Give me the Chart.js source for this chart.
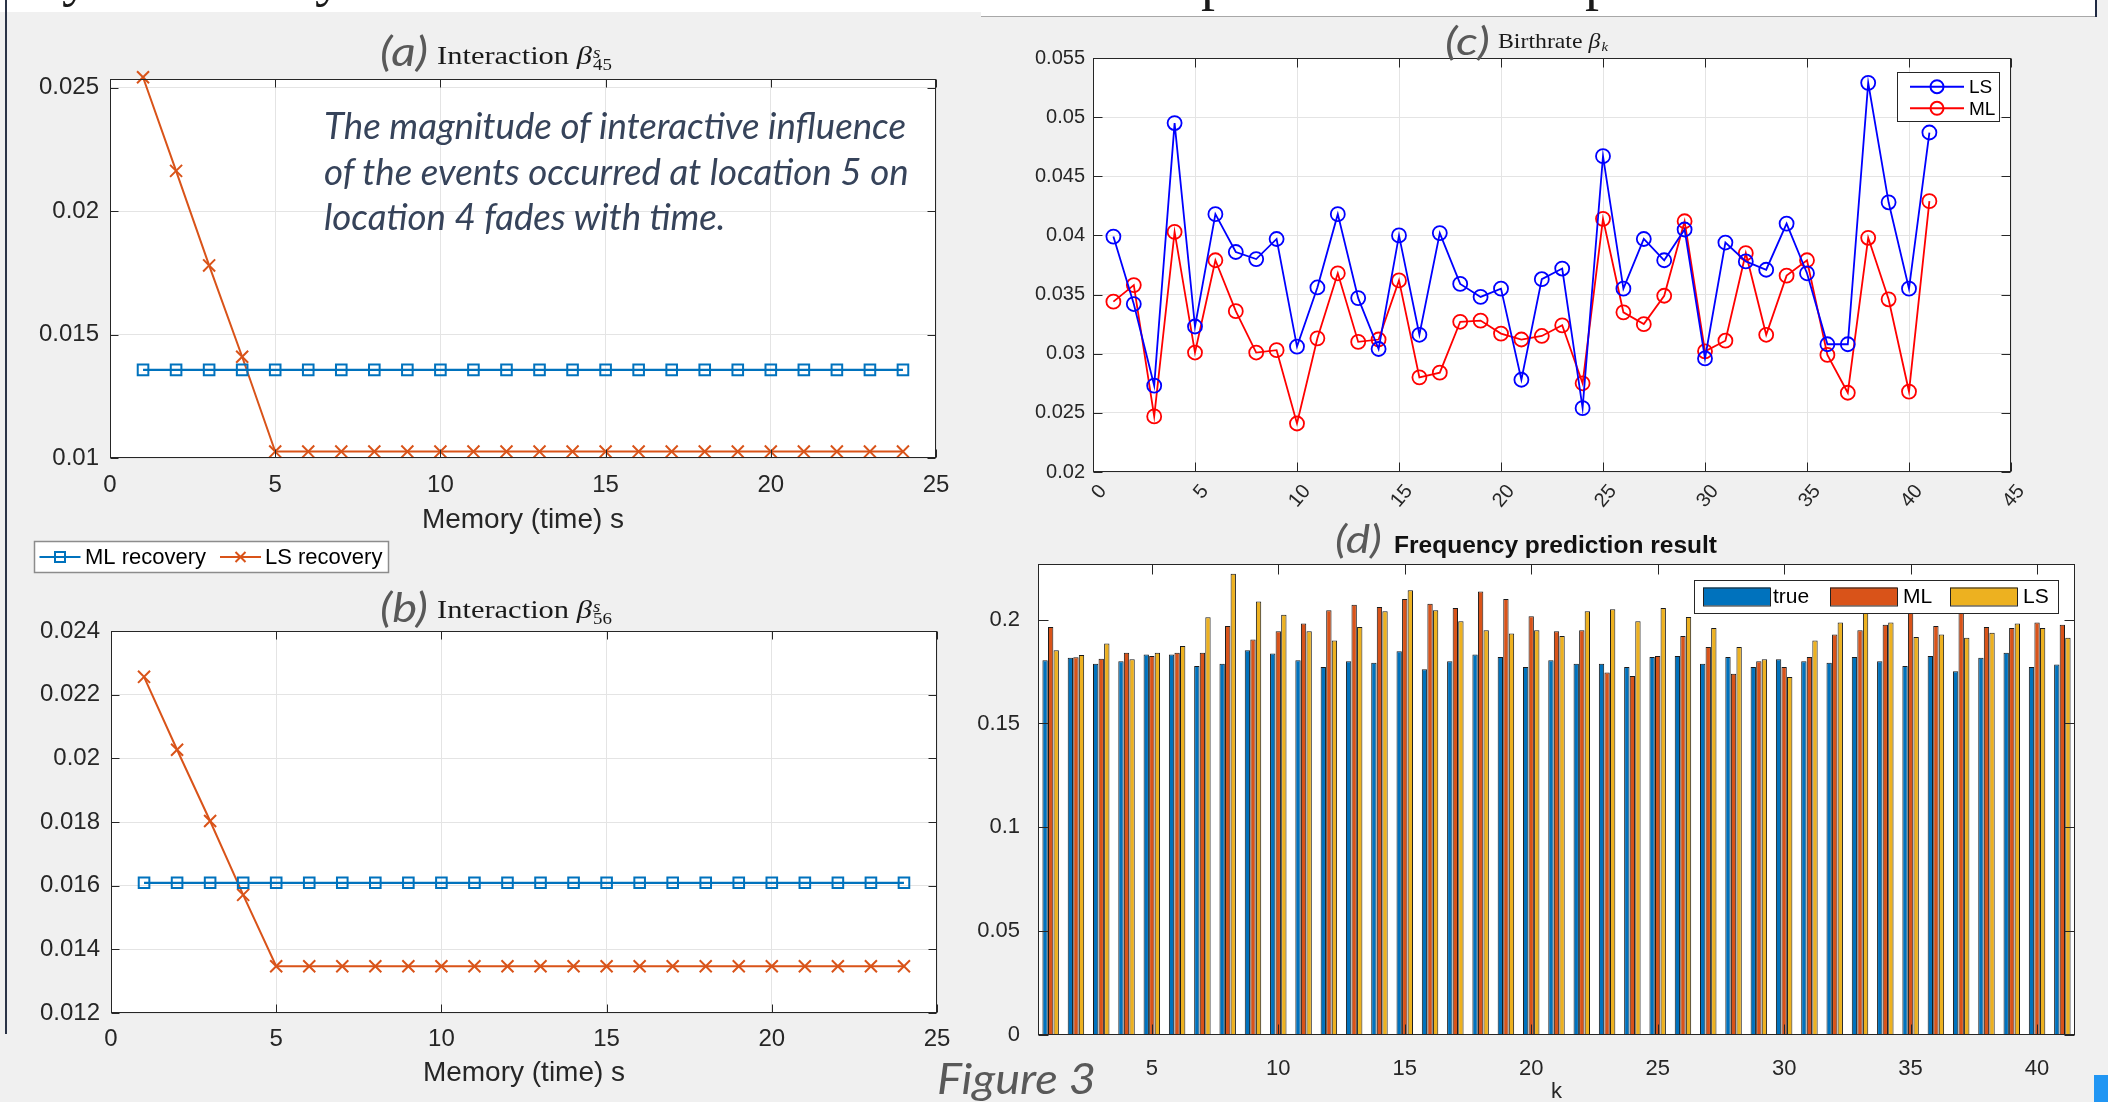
<!DOCTYPE html>
<html><head><meta charset="utf-8">
<script src="https://cdn.jsdelivr.net/npm/chart.js@4.4.1/dist/chart.umd.min.js"></script>
<style>
html,body{margin:0;padding:0;}
body{width:2108px;height:1102px;overflow:hidden;background:#f0f0f0;position:relative;font-family:'Liberation Sans',Arial,sans-serif;}
.abs{position:absolute;white-space:nowrap;}
canvas{display:block;}
.lbl{font-family:Lato,'Open Sans',sans-serif;font-style:italic;font-weight:400;color:#595959;line-height:1;}
.ser{font-family:'Liberation Serif','DejaVu Serif',serif;color:#1a1a1a;line-height:1;}
.ann{font-family:Lato,'Open Sans',sans-serif;font-style:italic;color:#36435a;font-size:36px;line-height:1;}
.ss{display:inline-block;line-height:0.78;font-size:0.62em;vertical-align:-0.38em;margin-left:1px;}
</style></head>
<body>
<!-- slide strip at the top -->
<div class="abs" style="left:0;top:0;width:981px;height:12px;background:#fff;overflow:hidden;">
  <span class="abs ser" style="left:62px;top:-52px;font-size:56px;">y</span>
  <span class="abs ser" style="left:315px;top:-52px;font-size:56px;">y</span>
</div>
<div class="abs" style="left:981px;top:0;width:1115px;height:16px;background:#fff;border-bottom:1.5px solid #a8a8a8;overflow:hidden;">
  <span class="abs ser" style="left:220px;top:-48px;font-size:56px;">p</span>
  <span class="abs ser" style="left:604px;top:-48px;font-size:56px;">p</span>
</div>
<div class="abs" style="left:2095px;top:0;width:2px;height:17px;background:#1f2a44;"></div>
<div class="abs" style="left:5px;top:0;width:2px;height:1034px;background:#2b3447;"></div>
<div class="abs" style="left:2094px;top:1075px;width:14px;height:27px;background:#2196f3;"></div>

<div class="abs" style="left:0;top:65px;width:950px;height:472px;"><canvas id="cA" width="950" height="472"></canvas></div>
<div class="abs" style="left:0;top:530px;width:952px;height:560px;"><canvas id="cB" width="952" height="560"></canvas></div>
<div class="abs" style="left:990px;top:45px;width:1040px;height:470px;"><canvas id="cC" width="1040" height="470"></canvas></div>
<div class="abs" style="left:940px;top:550px;width:1150px;height:555px;"><canvas id="cD" width="1150" height="555"></canvas></div>

<!-- titles -->
<div class="abs lbl" data-x="380" data-base="66" data-w="48" style="font-size:40px;">(a)</div>
<div class="abs ser" data-x="437" data-base="64" data-w="175" style="font-size:26px;">Interaction <i>β</i><span class="ss"><i>s</i><br>45</span></div>
<div class="abs lbl" data-x="380" data-base="622" data-w="48" style="font-size:40px;">(b)</div>
<div class="abs ser" data-x="437" data-base="618" data-w="175" style="font-size:26px;">Interaction <i>β</i><span class="ss"><i>s</i><br>56</span></div>
<div class="abs lbl" data-x="1445" data-base="55" data-w="45" style="font-size:38px;">(c)</div>
<div class="abs ser" data-x="1498" data-base="48" data-w="110" style="font-size:21px;">Birthrate <i>β</i><span class="ss" style="vertical-align:-0.25em;"><i>k</i></span></div>
<div class="abs lbl" data-x="1335" data-base="553" data-w="47" style="font-size:38px;">(d)</div>
<div class="abs" data-x="1394" data-base="553" data-w="323" style="font-size:23px;font-weight:bold;color:#111;line-height:1;">Frequency prediction result</div>

<!-- annotation -->
<div class="abs ann" id="ann1" data-x="324" data-base="139" data-w="582">The magnitude of interactive influence</div>
<div class="abs ann" data-x="324" data-base="184.5" data-scale-of="ann1">of the events occurred at location 5 on</div>
<div class="abs ann" data-x="324" data-base="230" data-scale-of="ann1">location 4 fades with time.</div>

<div class="abs lbl" data-x="937" data-base="1094" data-w="159" style="font-size:42px;">Figure 3</div>

<script>
// ---------- Panel (a) and (b): interaction vs memory lag ----------
const memoryLags = [1,2,3,4,5,6,7,8,9,10,11,12,13,14,15,16,17,18,19,20,21,22,23,24];
const mlRecovery45 = [0.01357,0.01357,0.01357,0.01357,0.01357,0.01357,0.01357,0.01357,0.01357,0.01357,0.01357,0.01357,
                      0.01357,0.01357,0.01357,0.01357,0.01357,0.01357,0.01357,0.01357,0.01357,0.01357,0.01357,0.01357];
const lsRecovery45 = [0.02542,0.02163,0.01780,0.01410,0.01026,0.01026,0.01026,0.01026,0.01026,0.01026,0.01026,0.01026,
                      0.01026,0.01026,0.01026,0.01026,0.01026,0.01026,0.01026,0.01026,0.01026,0.01026,0.01026,0.01026];
const mlRecovery56 = [0.01609,0.01609,0.01609,0.01609,0.01609,0.01609,0.01609,0.01609,0.01609,0.01609,0.01609,0.01609,
                      0.01609,0.01609,0.01609,0.01609,0.01609,0.01609,0.01609,0.01609,0.01609,0.01609,0.01609,0.01609];
const lsRecovery56 = [0.02256,0.02027,0.01803,0.01571,0.01347,0.01347,0.01347,0.01347,0.01347,0.01347,0.01347,0.01347,
                      0.01347,0.01347,0.01347,0.01347,0.01347,0.01347,0.01347,0.01347,0.01347,0.01347,0.01347,0.01347];
const memoryTicks = [0,5,10,15,20,25];
const memoryTickLabels = ['0','5','10','15','20','25'];
const yTicks45 = [0.01,0.015,0.02,0.025];
const yTickLabels45 = ['0.01','0.015','0.02','0.025'];
const yTicks56 = [0.012,0.014,0.016,0.018,0.02,0.022,0.024];
const yTickLabels56 = ['0.012','0.014','0.016','0.018','0.02','0.022','0.024'];
const seriesNamesAB = ['ML recovery','LS recovery'];

// ---------- Panel (c): birthrate ----------
const birthK = [1,2,3,4,5,6,7,8,9,10,11,12,13,14,15,16,17,18,19,20,21,22,23,24,25,26,27,28,29,30,31,32,33,34,35,36,37,38,39,40,41];
const birthLS = [0.0399,0.0342,0.0273,0.0495,0.0323,0.0418,0.0386,0.0380,0.0397,0.0306,
                 0.0356,0.0418,0.0347,0.0304,0.0400,0.0316,0.0402,0.0359,0.0348,0.0355,
                 0.0278,0.0363,0.0372,0.0254,0.0467,0.0355,0.0397,0.0379,0.0405,0.0296,
                 0.0394,0.0378,0.0371,0.0410,0.0368,0.0308,0.0308,0.0529,0.0428,0.0355,0.0487];
const birthML = [0.0344,0.0358,0.0247,0.0403,0.0301,0.0379,0.0336,0.0301,0.0303,0.0241,
                 0.0313,0.0368,0.0310,0.0312,0.0362,0.0280,0.0284,0.0327,0.0328,0.0317,
                 0.0312,0.0315,0.0324,0.0275,0.0414,0.0335,0.0325,0.0349,0.0412,0.0302,
                 0.0311,0.0385,0.0316,0.0366,0.0379,0.0299,0.0267,0.0398,0.0346,0.0268,0.0429];
const birthXTicks = [0,5,10,15,20,25,30,35,40,45];
const birthXTickLabels = ['0','5','10','15','20','25','30','35','40','45'];
const birthYTicks = [0.02,0.025,0.03,0.035,0.04,0.045,0.05,0.055];
const birthYTickLabels = ['0.02','0.025','0.03','0.035','0.04','0.045','0.05','0.055'];
const seriesNamesC = ['LS','ML'];

// ---------- Panel (d): frequency prediction ----------
const freqK = ['1','2','3','4','5','6','7','8','9','10','11','12','13','14','15','16','17','18','19','20','21',
               '22','23','24','25','26','27','28','29','30','31','32','33','34','35','36','37','38','39','40','41'];
const freqTrue = [0.1804,0.1816,0.1788,0.1800,0.1832,0.1832,0.1777,0.1788,0.1853,0.1837,
                  0.1804,0.1772,0.1800,0.1793,0.1848,0.1761,0.1800,0.1832,0.1820,0.1772,
                  0.1804,0.1788,0.1788,0.1772,0.1820,0.1825,0.1788,0.1820,0.1772,0.1809,
                  0.1800,0.1793,0.1820,0.1800,0.1777,0.1825,0.1752,0.1816,0.1841,0.1772,0.1784];
const freqML = [0.1965,0.1819,0.1812,0.1841,0.1825,0.1841,0.1841,0.1970,0.1905,0.1944,
                0.1981,0.2045,0.2072,0.2061,0.2099,0.2077,0.2056,0.2136,0.2099,0.2017,
                0.1944,0.1949,0.1745,0.1729,0.1825,0.1921,0.1868,0.1740,0.1800,0.1772,
                0.1820,0.1928,0.1949,0.1976,0.2080,0.1969,0.2070,0.1965,0.1960,0.1986,0.1976];
const freqLS = [0.1853,0.1830,0.1885,0.1809,0.1841,0.1873,0.2011,0.2221,0.2087,0.2024,
                0.1944,0.1900,0.1965,0.2040,0.2141,0.2045,0.1992,0.1949,0.1933,0.1949,
                0.1921,0.2040,0.2050,0.1992,0.2056,0.2013,0.1960,0.1868,0.1809,0.1724,
                0.1900,0.1986,0.2050,0.1986,0.1916,0.1928,0.1913,0.1937,0.1981,0.1960,0.1913];
const freqXTickLabels = ['5','10','15','20','25','30','35','40'];
const freqYTicks = [0,0.05,0.1,0.15,0.2];
const freqYTickLabels = ['0','0.05','0.1','0.15','0.2'];
const seriesNamesD = ['true','ML','LS'];

// ---------- colours ----------
const C_BLUE = '#0072BD', C_ORANGE = '#D95319', C_YELLOW = '#EDB120';
const AX = '#262626', GRID = '#e4e4e4';

Chart.defaults.font.family = "'Liberation Sans', Arial, Helvetica, sans-serif";
Chart.defaults.color = AX;

function labelFor(ticks, labels) {
  return v => { const i = ticks.findIndex(t => Math.abs(t - v) < 1e-9); return i >= 0 ? labels[i] : ''; };
}
function fixTicks(ticks) { return s => { s.ticks = ticks.map(v => ({ value: v })); }; }
function fitX(h) { return s => { s.height = h; s.paddingLeft = 0; s.paddingRight = 0; }; }
function fitY(w) { return s => { s.width = w; s.paddingTop = 0; s.paddingBottom = 0; }; }

// white plot background, MATLAB-like box with inward tick marks
function boxPlugin(xVals, yVals, tickLen) {
  return {
    id: 'box',
    beforeDraw(chart) {
      const { ctx, chartArea: a } = chart;
      ctx.save(); ctx.fillStyle = '#fff';
      ctx.fillRect(a.left, a.top, a.right - a.left, a.bottom - a.top); ctx.restore();
    },
    afterDatasetsDraw(chart) {
      const { ctx, chartArea: a, scales } = chart;
      const L = Math.round(a.left) + 0.5, R = Math.round(a.right) - 0.5;
      const T = Math.round(a.top) + 0.5, B = Math.round(a.bottom) - 0.5;
      ctx.save(); ctx.strokeStyle = AX; ctx.lineWidth = 1; ctx.beginPath();
      xVals.forEach(v => { const p = Math.round(scales.x.getPixelForValue(v)) + 0.5;
        ctx.moveTo(p, B); ctx.lineTo(p, B - tickLen); ctx.moveTo(p, T); ctx.lineTo(p, T + tickLen); });
      yVals.forEach(v => { const p = Math.round(scales.y.getPixelForValue(v)) + 0.5;
        ctx.moveTo(L, p); ctx.lineTo(L + tickLen, p); ctx.moveTo(R, p); ctx.lineTo(R - tickLen, p); });
      ctx.stroke();
      ctx.strokeRect(L, T, R - L, B - T);
      ctx.restore();
    }
  };
}

function drawMarker(ctx, kind, x, y, color) {
  ctx.save(); ctx.strokeStyle = color; ctx.lineWidth = 2; ctx.beginPath();
  if (kind === 'square') ctx.rect(x - 5, y - 5, 10, 10);
  else if (kind === 'x') { ctx.moveTo(x - 5, y - 5); ctx.lineTo(x + 5, y + 5); ctx.moveTo(x + 5, y - 5); ctx.lineTo(x - 5, y + 5); }
  else if (kind === 'circle') ctx.arc(x, y, 6.5, 0, Math.PI * 2);
  ctx.stroke(); ctx.restore();
}

// legend drawn inside the canvas at a chosen place
function legendPlugin(cfg) {
  return {
    id: 'boxLegend',
    afterDraw(chart) {
      const ctx = chart.ctx;
      ctx.save();
      ctx.fillStyle = '#fff'; ctx.fillRect(cfg.x, cfg.y, cfg.w, cfg.h);
      ctx.strokeStyle = cfg.border; ctx.lineWidth = cfg.borderWidth;
      ctx.strokeRect(cfg.x + 0.5, cfg.y + 0.5, cfg.w, cfg.h);
      ctx.font = cfg.font; ctx.textBaseline = 'middle'; ctx.fillStyle = '#000';
      cfg.items.forEach(it => {
        const yy = cfg.y + it.dy;
        if (it.kind === 'line') {
          ctx.strokeStyle = it.color; ctx.lineWidth = it.lw;
          ctx.beginPath(); ctx.moveTo(cfg.x + it.dx, yy); ctx.lineTo(cfg.x + it.dx + cfg.lineLen, yy); ctx.stroke();
          drawMarker(ctx, it.marker, cfg.x + it.dx + cfg.lineLen / 2, yy, it.color);
        } else {
          ctx.fillStyle = it.color;
          ctx.fillRect(cfg.x + it.dx, yy - cfg.ph / 2, cfg.pw, cfg.ph);
          ctx.strokeStyle = '#222'; ctx.lineWidth = 1;
          ctx.strokeRect(cfg.x + it.dx + 0.5, yy - cfg.ph / 2 + 0.5, cfg.pw, cfg.ph);
        }
        ctx.fillStyle = '#000';
        ctx.fillText(it.text, cfg.x + it.tx, yy + 1);
      });
      ctx.restore();
    }
  };
}

const baseOpts = { responsive: false, animation: false, devicePixelRatio: 1, events: [] };

function interactionChart(id, mlVals, lsVals, yTicks, yLabels, yMin, yMax, padTop, padRight, yW, xH, tickPad, legend) {
  const plugins = [boxPlugin(memoryTicks, yTicks, 8)];
  if (legend) plugins.push(legendPlugin(legend));
  return new Chart(document.getElementById(id), {
    type: 'line',
    data: { datasets: [
      { label: seriesNamesAB[0], data: memoryLags.map((x, i) => ({ x, y: mlVals[i] })), borderColor: C_BLUE,
        borderWidth: 2.2, pointStyle: 'rect', pointRadius: 7.5, pointBorderWidth: 2, pointBorderColor: C_BLUE,
        pointBackgroundColor: 'rgba(0,0,0,0)', clip: false },
      { label: seriesNamesAB[1], data: memoryLags.map((x, i) => ({ x, y: lsVals[i] })), borderColor: C_ORANGE,
        borderWidth: 2, pointStyle: 'crossRot', pointRadius: 8.5, pointBorderWidth: 2, pointBorderColor: C_ORANGE,
        pointBackgroundColor: 'rgba(0,0,0,0)', clip: false }
    ] },
    options: { ...baseOpts,
      layout: { padding: { top: padTop, right: padRight, left: 0, bottom: 0 } },
      plugins: { legend: { display: false }, tooltip: { enabled: false } },
      scales: {
        x: { type: 'linear', min: 0, max: 25, afterBuildTicks: fixTicks(memoryTicks), afterFit: fitX(xH),
             grid: { color: GRID, drawTicks: false }, border: { display: false },
             ticks: { callback: labelFor(memoryTicks, memoryTickLabels), font: { size: 24 }, padding: tickPad, maxRotation: 0, color: AX },
             title: { display: true, text: 'Memory (time) s', font: { size: 28 }, padding: { top: 0, bottom: 0 }, color: AX } },
        y: { type: 'linear', min: yMin, max: yMax, afterBuildTicks: fixTicks(yTicks), afterFit: fitY(yW),
             grid: { color: GRID, drawTicks: false }, border: { display: false },
             ticks: { callback: labelFor(yTicks, yLabels), font: { size: 24 }, padding: 11, color: AX } }
      }
    },
    plugins
  });
}

interactionChart('cA', mlRecovery45, lsRecovery45, yTicks45, yTickLabels45, 0.01, 0.02535, 14, 14, 110, 79, 13, null);
interactionChart('cB', mlRecovery56, lsRecovery56, yTicks56, yTickLabels56, 0.012, 0.024, 101, 15, 111, 77, 12, {
  x: 34, y: 11, w: 354, h: 31, border: '#8c8c8c', borderWidth: 1.5, font: "22px 'Liberation Sans', Arial, sans-serif",
  lineLen: 41,
  items: [
    { kind: 'line', text: seriesNamesAB[0], color: C_BLUE, marker: 'square', lw: 2, dx: 5.5, tx: 51, dy: 16 },
    { kind: 'line', text: seriesNamesAB[1], color: C_ORANGE, marker: 'x', lw: 2, dx: 186, tx: 231, dy: 16 }
  ]
});

// Panel (c)
new Chart(document.getElementById('cC'), {
  type: 'line',
  data: { datasets: [
    { label: seriesNamesC[0], data: birthK.map((x, i) => ({ x, y: birthLS[i] })), borderColor: '#0000ff', borderWidth: 1.8,
      pointStyle: 'circle', pointRadius: 7, pointBorderWidth: 1.8, pointBorderColor: '#0000ff', pointBackgroundColor: 'rgba(0,0,0,0)' },
    { label: seriesNamesC[1], data: birthK.map((x, i) => ({ x, y: birthML[i] })), borderColor: '#ff0000', borderWidth: 1.8,
      pointStyle: 'circle', pointRadius: 7, pointBorderWidth: 1.8, pointBorderColor: '#ff0000', pointBackgroundColor: 'rgba(0,0,0,0)' }
  ] },
  options: { ...baseOpts,
    layout: { padding: { top: 13, right: 19, left: 0, bottom: 0 } },
    plugins: { legend: { display: false }, tooltip: { enabled: false } },
    scales: {
      x: { type: 'linear', min: 0, max: 45, afterBuildTicks: fixTicks(birthXTicks), afterFit: fitX(43),
           grid: { color: GRID, drawTicks: false }, border: { display: false },
           ticks: { callback: labelFor(birthXTicks, birthXTickLabels), font: { size: 20 }, padding: 8, minRotation: 50, maxRotation: 50, labelOffset: 10, color: AX } },
      y: { type: 'linear', min: 0.02, max: 0.055, afterBuildTicks: fixTicks(birthYTicks), afterFit: fitY(103),
           grid: { color: GRID, drawTicks: false }, border: { display: false },
           ticks: { callback: labelFor(birthYTicks, birthYTickLabels), font: { size: 20 }, padding: 8, color: AX } }
    }
  },
  plugins: [boxPlugin(birthXTicks, birthYTicks, 9), legendPlugin({
    x: 907, y: 27, w: 102, h: 49, border: '#262626', borderWidth: 1, font: "19px 'Liberation Sans', Arial, sans-serif",
    lineLen: 54,
    items: [
      { kind: 'line', text: seriesNamesC[0], color: '#0000ff', marker: 'circle', lw: 2, dx: 13, tx: 72, dy: 14.7 },
      { kind: 'line', text: seriesNamesC[1], color: '#ff0000', marker: 'circle', lw: 2, dx: 13, tx: 72, dy: 36.3 }
    ]
  })]
});

// Panel (d)
const freqXTickIdx = freqXTickLabels.map(l => freqK.indexOf(l));
new Chart(document.getElementById('cD'), {
  type: 'bar',
  data: { labels: freqK, datasets: [
    { label: seriesNamesD[0], data: freqTrue, backgroundColor: C_BLUE, borderColor: '#1a1a1a', borderWidth: 1, borderSkipped: false },
    { label: seriesNamesD[1], data: freqML, backgroundColor: C_ORANGE, borderColor: '#1a1a1a', borderWidth: 1, borderSkipped: false },
    { label: seriesNamesD[2], data: freqLS, backgroundColor: C_YELLOW, borderColor: '#1a1a1a', borderWidth: 1, borderSkipped: false }
  ] },
  options: { ...baseOpts,
    datasets: { bar: { categoryPercentage: 0.66, barPercentage: 0.96 } },
    layout: { padding: { top: 14, right: 15, left: 0, bottom: 0 } },
    plugins: { legend: { display: false }, tooltip: { enabled: false } },
    scales: {
      x: { type: 'category', offset: true, afterFit: fitX(70),
           grid: { display: false }, border: { display: false },
           ticks: { autoSkip: false, maxRotation: 0, font: { size: 22 }, padding: 13, color: AX,
                    callback: (v, i) => freqXTickLabels.includes(freqK[i]) ? freqK[i] : '' },
           title: { display: true, text: 'k', font: { size: 22 }, padding: { top: 0, bottom: 0 }, color: AX } },
      y: { type: 'linear', min: 0, max: 0.2268, afterBuildTicks: fixTicks(freqYTicks), afterFit: fitY(98),
           grid: { display: false }, border: { display: false },
           ticks: { callback: labelFor(freqYTicks, freqYTickLabels), font: { size: 22 }, padding: 10, color: AX } }
    }
  },
  plugins: [boxPlugin(freqXTickIdx, freqYTicks, 10), legendPlugin({
    x: 754, y: 30, w: 364, h: 33, border: '#262626', borderWidth: 1, font: "21px 'Liberation Sans', Arial, sans-serif",
    pw: 67, ph: 18,
    items: [
      { kind: 'patch', text: seriesNamesD[0], color: C_BLUE, dx: 9, tx: 79, dy: 16.5 },
      { kind: 'patch', text: seriesNamesD[1], color: C_ORANGE, dx: 136, tx: 209, dy: 16.5 },
      { kind: 'patch', text: seriesNamesD[2], color: C_YELLOW, dx: 256, tx: 329, dy: 16.5 }
    ]
  })]
});

// ---------- place HTML text by baseline and fitted width ----------
function placeText() {
  const els = Array.from(document.querySelectorAll('[data-base]'));
  els.forEach(el => {
    el.style.transform = '';
    el.style.left = el.dataset.x + 'px';
    el.style.top = '0px';
    const m = document.createElement('span');
    m.style.cssText = 'display:inline-block;width:0;height:0;vertical-align:baseline;';
    el.appendChild(m);
    const off = m.getBoundingClientRect().top - el.getBoundingClientRect().top;
    el.removeChild(m);
    el.style.top = (parseFloat(el.dataset.base) - off) + 'px';
    el._s = el.dataset.w ? parseFloat(el.dataset.w) / el.getBoundingClientRect().width : 0;
  });
  els.forEach(el => {
    let s = el._s;
    if (el.dataset.scaleOf) s = document.getElementById(el.dataset.scaleOf)._s;
    if (s) { el.style.transformOrigin = '0 0'; el.style.transform = 'scaleX(' + s + ')'; }
  });
}
placeText();
if (document.fonts && document.fonts.ready) document.fonts.ready.then(placeText);
</script>
</body></html>
